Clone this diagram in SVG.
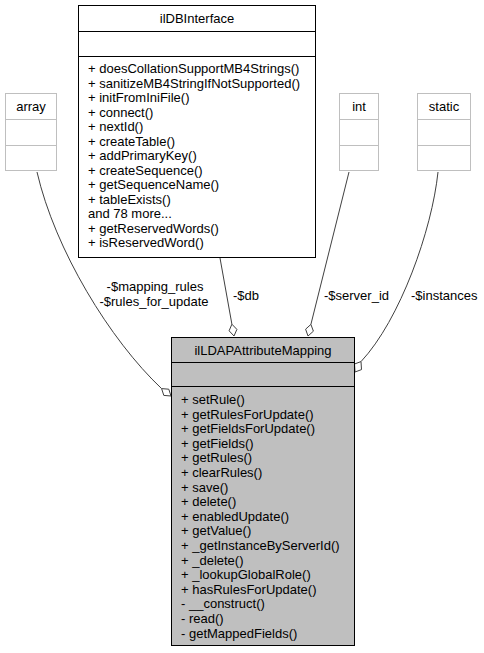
<svg xmlns="http://www.w3.org/2000/svg" width="484" height="653" viewBox="0 0 484 653">
<style>
text{font-family:"Liberation Sans",Arial,Helvetica,sans-serif;font-size:13px;fill:#000}
.c{text-anchor:middle}
.ext{fill:#fff;stroke:#bfbfbf;stroke-width:1}
.cls{fill:#fff;stroke:#000;stroke-width:1}
.main{fill:#bfbfbf;stroke:#000;stroke-width:1}
.edge{fill:none;stroke:#404040;stroke-width:1}
.dia{fill:#fff;stroke:#404040;stroke-width:1}
</style>
<rect width="484" height="653" fill="#fff"/>
<g id="connectors">
<path class="edge" d="M37,172 C55,250 110,340 161.6,388.6"/>
<polygon class="dia" points="171,396 163.8,395.4 161.6,388.6 168.8,389.2"/>
<text class="c" x="155" y="291">-$mapping_rules</text>
<text class="c" x="154" y="306">-$rules_for_update</text>
<path class="edge" d="M220,258 L231.9,324.2"/>
<polygon class="dia" points="234,336 236.9,329.4 231.9,324.2 229.1,330.8"/>
<text x="233" y="300">-$db</text>
<path class="edge" d="M349,172 L310.9,324.4"/>
<polygon class="dia" points="308,336 313.4,331.2 310.9,324.4 305.6,329.2"/>
<text x="324" y="300">-$server_id</text>
<path class="edge" d="M438,172 C432,230 400,320 361,361.6"/>
<polygon class="dia" points="355,372 361.5,369.6 361,361.6 354.5,364"/>
<text x="411" y="300">-$instances</text>
</g>
<g id="node-array">
<rect class="ext" x="5.5" y="93.5" width="51" height="77"/>
<line class="ext" x1="5.5" y1="119.5" x2="56.5" y2="119.5"/>
<line class="ext" x1="5.5" y1="145.5" x2="56.5" y2="145.5"/>
<text class="c" x="31" y="111">array</text>
</g>
<g id="node-int">
<rect class="ext" x="339.5" y="93.5" width="39" height="77"/>
<line class="ext" x1="339.5" y1="119.5" x2="378.5" y2="119.5"/>
<line class="ext" x1="339.5" y1="145.5" x2="378.5" y2="145.5"/>
<text class="c" x="359" y="111">int</text>
</g>
<g id="node-static">
<rect class="ext" x="417.5" y="93.5" width="53" height="77"/>
<line class="ext" x1="417.5" y1="119.5" x2="470.5" y2="119.5"/>
<line class="ext" x1="417.5" y1="145.5" x2="470.5" y2="145.5"/>
<text class="c" x="444" y="111">static</text>
</g>
<g id="node-ilDBInterface">
<rect class="cls" x="78.5" y="5.5" width="237" height="252"/>
<line class="cls" x1="78.5" y1="31.5" x2="315.5" y2="31.5"/>
<line class="cls" x1="78.5" y1="56.5" x2="315.5" y2="56.5"/>
<text class="c" x="197" y="23">ilDBInterface</text>
<text x="88" y="73">+ doesCollationSupportMB4Strings()</text>
<text x="88" y="87.5">+ sanitizeMB4StringIfNotSupported()</text>
<text x="88" y="102">+ initFromIniFile()</text>
<text x="88" y="116.5">+ connect()</text>
<text x="88" y="131">+ nextId()</text>
<text x="88" y="145.5">+ createTable()</text>
<text x="88" y="160">+ addPrimaryKey()</text>
<text x="88" y="174.5">+ createSequence()</text>
<text x="88" y="189">+ getSequenceName()</text>
<text x="88" y="203.5">+ tableExists()</text>
<text x="88" y="218">and 78 more...</text>
<text x="88" y="232.5">+ getReservedWords()</text>
<text x="88" y="247">+ isReservedWord()</text>
</g>
<g id="node-ilLDAPAttributeMapping">
<rect class="main" x="171.5" y="337.5" width="183" height="308"/>
<line class="cls" x1="171.5" y1="362.5" x2="354.5" y2="362.5"/>
<line class="cls" x1="171.5" y1="386.5" x2="354.5" y2="386.5"/>
<text class="c" x="263" y="355">ilLDAPAttributeMapping</text>
<text x="181" y="404">+ setRule()</text>
<text x="181" y="418.6">+ getRulesForUpdate()</text>
<text x="181" y="433.2">+ getFieldsForUpdate()</text>
<text x="181" y="447.8">+ getFields()</text>
<text x="181" y="462.4">+ getRules()</text>
<text x="181" y="477">+ clearRules()</text>
<text x="181" y="491.6">+ save()</text>
<text x="181" y="506.2">+ delete()</text>
<text x="181" y="520.8">+ enabledUpdate()</text>
<text x="181" y="535.4">+ getValue()</text>
<text x="181" y="550">+ _getInstanceByServerId()</text>
<text x="181" y="564.6">+ _delete()</text>
<text x="181" y="579.2">+ _lookupGlobalRole()</text>
<text x="181" y="593.8">+ hasRulesForUpdate()</text>
<text x="181" y="608.4">- __construct()</text>
<text x="181" y="623">- read()</text>
<text x="181" y="637.6">- getMappedFields()</text>
</g>
</svg>
